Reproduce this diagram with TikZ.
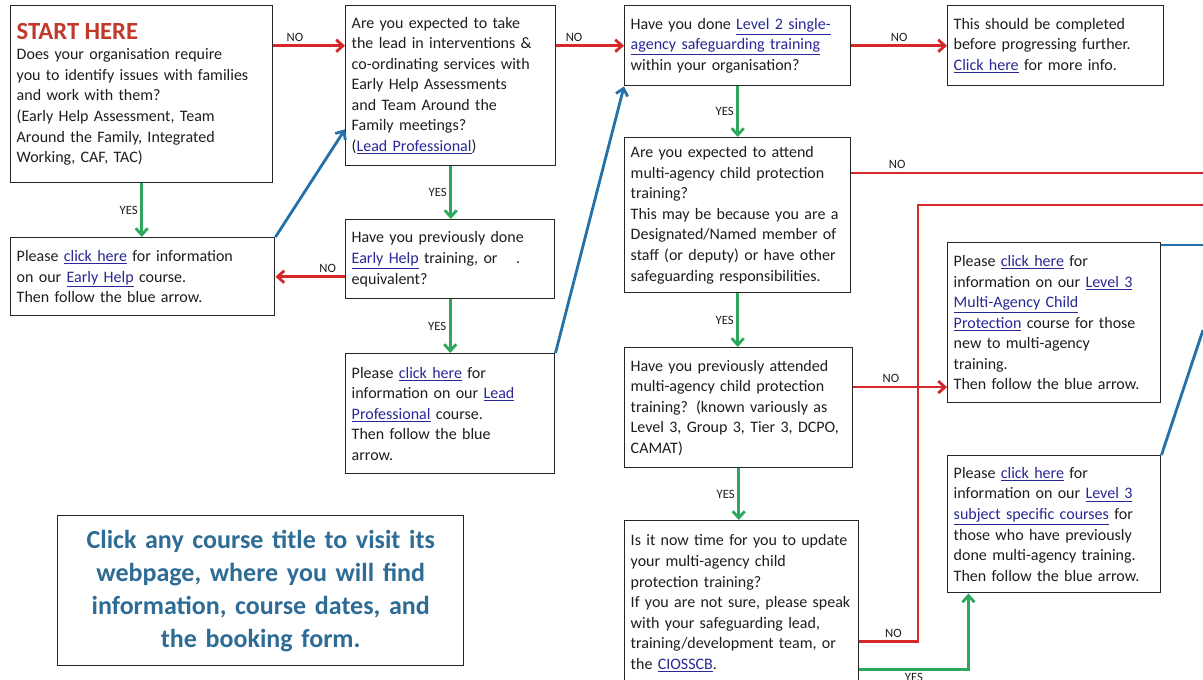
\documentclass[tikz,border=0pt]{standalone}
\usepackage{fontspec}
\setmainfont{Carlito}
\usepackage{xcolor}
\usetikzlibrary{arrows.meta, calc}
\definecolor{noRed}{RGB}{214,40,40}
\definecolor{yesGreen}{RGB}{46,168,94}
\definecolor{goBlue}{RGB}{36,112,168}
\definecolor{linkBlue}{RGB}{40,40,150}
\definecolor{textGray}{RGB}{30,30,30}
\definecolor{noteBlue}{RGB}{46,108,150}
\definecolor{startRed}{RGB}{192,57,43}
\newcommand{\lnk}[1]{\textcolor{linkBlue}{\underline{#1}}}

\begin{document}
\begin{tikzpicture}[x=0.75pt, y=-0.75pt,
  box/.style={draw=black!85, line width=1.1pt, fill=white, anchor=north west, align=left,
    inner xsep=4.5pt, inner ysep=3pt, text=textGray, font=\fontsize{12}{15.4}\selectfont},
  lbl/.style={text=textGray, font=\fontsize{9.5}{10}\selectfont, inner sep=2pt},
  noarr/.style={draw=noRed, line width=2.1pt, -{Straight Barb[length=5pt, width=9pt]}},
  noline/.style={draw=noRed, line width=2.1pt},
  yesarr/.style={draw=yesGreen, line width=2.1pt, -{Straight Barb[length=5pt, width=9pt]}},
  blarr/.style={draw=goBlue, line width=2.1pt, -{Straight Barb[length=5pt, width=9pt]}},
  blline/.style={draw=goBlue, line width=2.1pt}]
\useasboundingbox[fill=white] (0,0) rectangle (1203,679);

\node[box, text width=187.5pt, minimum height=132.75pt] (start) at (10,5)
  {{\color{startRed}\fontsize{18.5}{21}\selectfont\bfseries START HERE}\\
   Does your organisation require\\ you to identify issues with families\\ and work with them?\\
   (Early Help Assessment, Team\\ Around the Family, Integrated\\ Working, CAF, TAC)};
\node[box, text width=148.5pt, minimum height=120pt] (lead) at (345,5)
  {Are you expected to take\\ the lead in interventions \&\\ co-ordinating services with\\
   Early Help Assessments\\ and Team Around the\\ Family meetings?\\ (\lnk{Lead Professional})};
\node[box, text width=160.5pt, minimum height=60pt] (level2) at (624,5)
  {Have you done \lnk{Level 2 single-}\\ \lnk{agency safeguarding training}\\ within your organisation?};
\node[box, text width=153pt, minimum height=60pt] (complete) at (947,5)
  {This should be completed\\ before progressing further.\\ \lnk{Click here} for more info.};
\node[box, text width=189pt, minimum height=58.5pt] (earlyinfo) at (10,237)
  {Please \lnk{click here} for information\\ on our \lnk{Early Help} course.\\ Then follow the blue arrow.};
\node[box, text width=147.75pt, minimum height=59.25pt] (prevEH) at (345,219)
  {Have you previously done\\ \lnk{Early Help} training, or\hspace{14pt}.\\ equivalent?};
\node[box, text width=147.75pt, minimum height=90pt] (leadinfo) at (345,353)
  {Please \lnk{click here} for\\ information on our \lnk{Lead}\\ \lnk{Professional} course.\\
   Then follow the blue\\ arrow.};
\node[box, text width=160.5pt, minimum height=116.25pt] (multi) at (624,137)
  {Are you expected to attend\\ multi-agency child protection\\ training?\\
   This may be because you are a\\ Designated/Named member of\\ staff (or deputy) or have other\\
   safeguarding responsibilities.};
\node[box, text width=162pt, minimum height=90pt] (prevattend) at (624,347)
  {Have you previously attended\\ multi-agency child protection\\ training? (known variously as\\
   Level 3, Group 3, Tier 3, DCPO,\\ CAMAT)};
\node[box, text width=166.5pt, minimum height=124pt] (update) at (624,520)
  {Is it now time for you to update\\ your multi-agency child\\ protection training?\\
   If you are not sure, please speak\\ with your safeguarding lead,\\
   training/development team, or\\ the \lnk{CIOSSCB}.};
\node[box, text width=150.75pt, minimum height=120pt] (L3MA) at (947,242)
  {Please \lnk{click here} for\\ information on our \lnk{Level 3}\\ \lnk{Multi-Agency Child}\\
   \lnk{Protection} course for those\\ new to multi-agency\\ training.\\ Then follow the blue arrow.};
\node[box, text width=150.75pt, minimum height=102.75pt] (subject) at (947,455)
  {Please \lnk{click here} for\\ information on our \lnk{Level 3}\\ \lnk{subject specific courses} for\\
   those who have previously\\ done multi-agency training.\\ Then follow the blue arrow.};
\node[box, align=center, text width=295.5pt, minimum height=112.5pt, text=noteBlue,
  font=\fontsize{19.5}{24.75}\selectfont\bfseries] (note) at (57,515)
  {Click any course title to visit its\\ webpage, where you will find\\
   information, course dates, and\\ the booking form.};

\coordinate (outA) at (1203,173);
\coordinate (outB) at (1203,205);
\coordinate (bendB) at (918,205);
\coordinate (outC) at (1203,245);
\coordinate (outD) at (1203,330);
\coordinate (pa) at ($(prevattend.north east)!0.33!(prevattend.south east)$);

\draw[noarr] (start.east |- level2.west) -- node[lbl, above, pos=0.3] {NO} (lead.west |- level2.west);
\draw[noarr] (lead.east |- level2.west) -- node[lbl, above, pos=0.26] {NO} (level2.west);
\draw[noarr] (level2.east) -- node[lbl, above] {NO} (complete.west);
\draw[yesarr] (start.south) -- node[lbl, left] {YES} (start.south |- earlyinfo.north);
\draw[blarr] (earlyinfo.north east) -- ($(lead.north west)!0.77!(lead.south west)$);
\draw[yesarr] (lead.south) -- node[lbl, left] {YES} (lead.south |- prevEH.north);
\draw[noarr] (prevEH.west |- earlyinfo.east) -- node[lbl, above, pos=0.25] {NO} (earlyinfo.east);
\draw[yesarr] (prevEH.south) -- node[lbl, left] {YES} (prevEH.south |- leadinfo.north);
\draw[blarr] (leadinfo.north east) -- (level2.south west);
\draw[yesarr] (level2.south) -- node[lbl, left] {YES} (level2.south |- multi.north);
\draw[noline] (multi.east |- outA) -- node[lbl, above, pos=0.13] {NO} (outA);
\draw[yesarr] (multi.south) -- node[lbl, left] {YES} (multi.south |- prevattend.north);
\draw[noarr] (pa) -- node[lbl, above, pos=0.4] {NO} (L3MA.west |- pa);
\draw[yesarr] (prevattend.south) -- node[lbl, left] {YES} (prevattend.south |- update.north);
\draw[noline] ($(update.north east)!0.727!(update.south east)$) -| node[lbl, above, pos=0.29] {NO} (bendB) -- (outB);
\draw[yesarr] ($(update.north east)!0.897!(update.south east)$) -| node[lbl, below, pos=0.25] {YES}
  ($(subject.south west)!0.1!(subject.south east)$);
\draw[blline] (L3MA.north east |- outC) -- (outC);
\draw[blline] (subject.north east) -- (outD);
\end{tikzpicture}
\end{document}
